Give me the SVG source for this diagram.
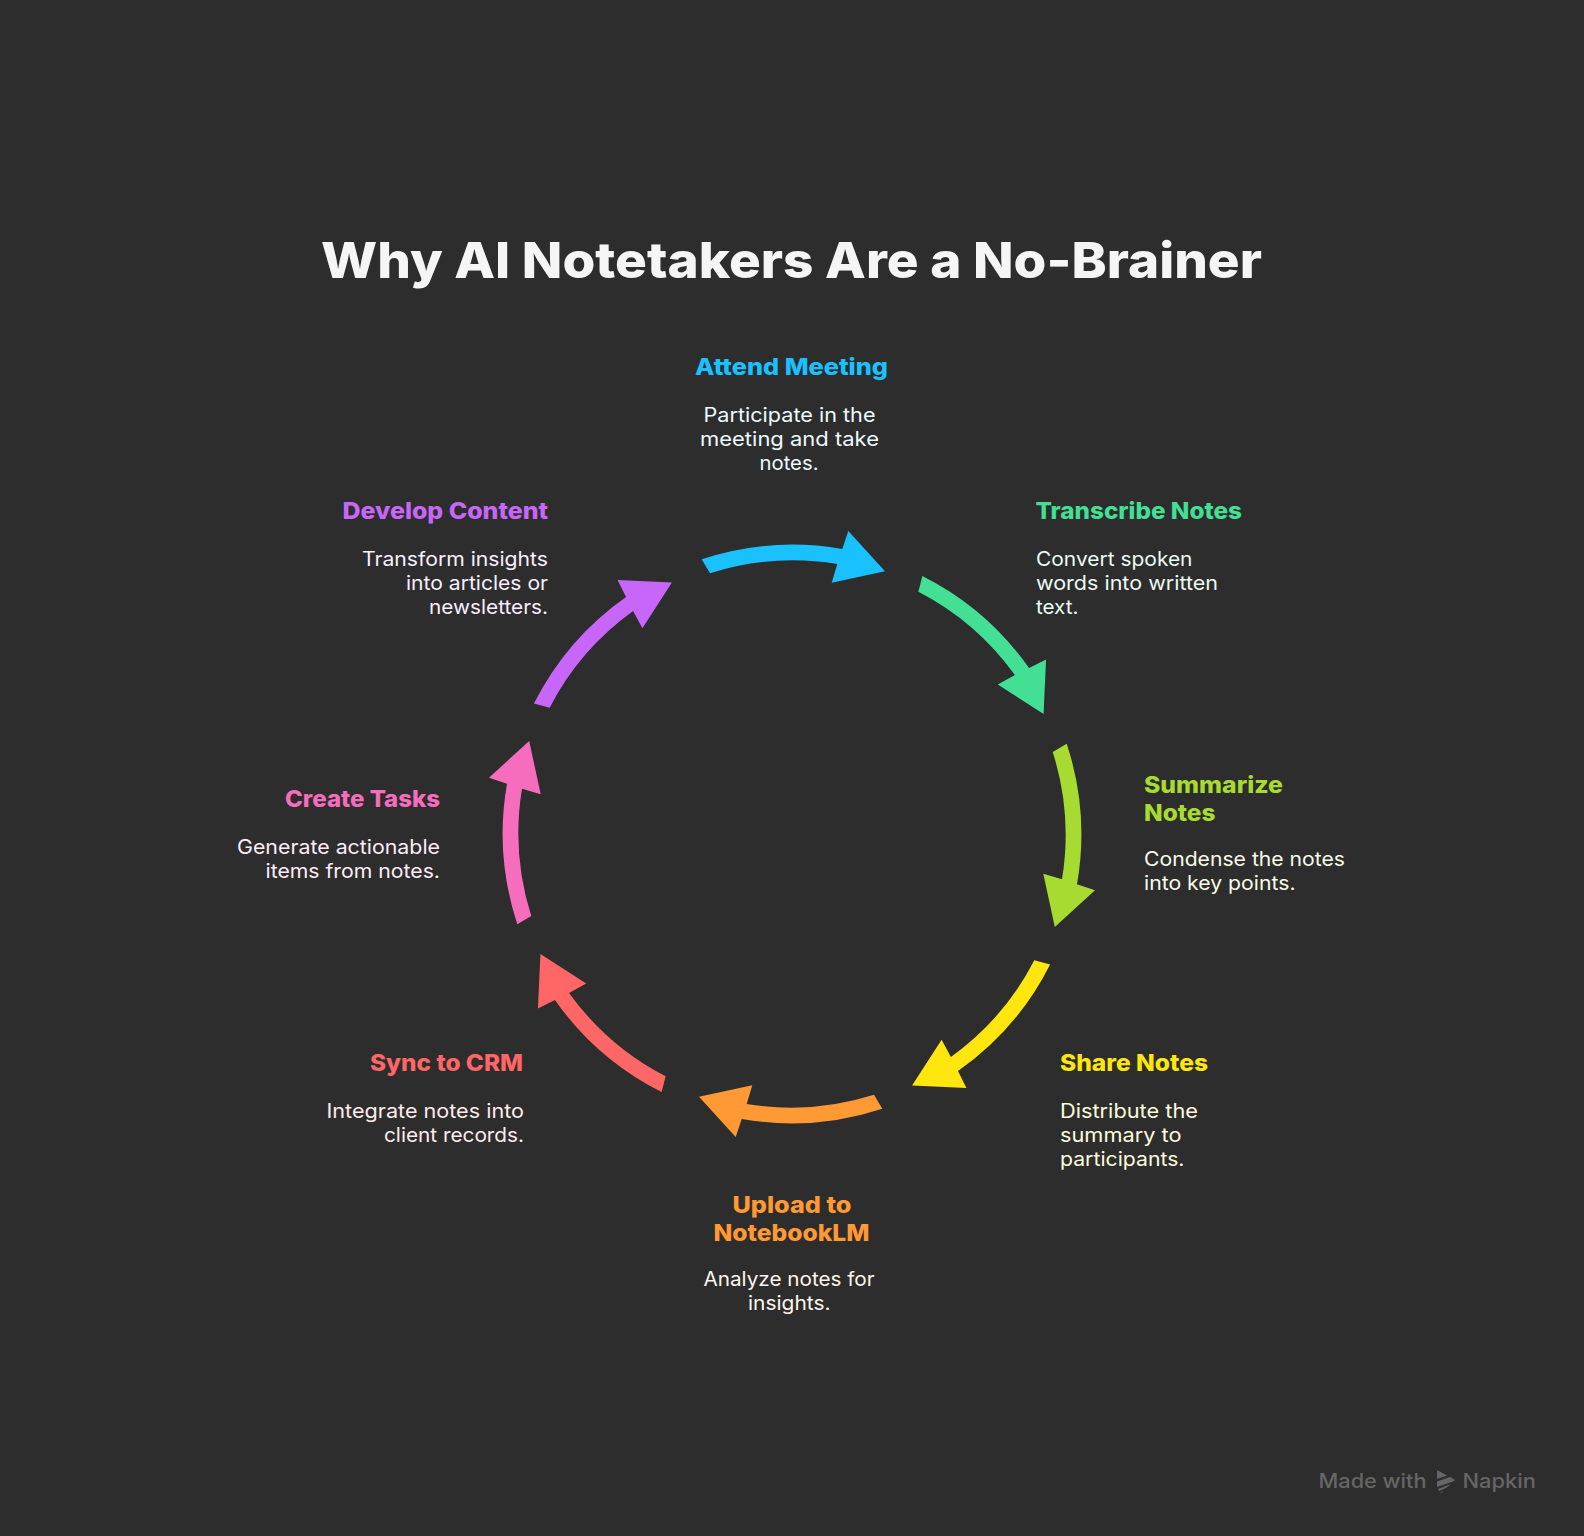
<svg xmlns="http://www.w3.org/2000/svg" width="1584" height="1536" viewBox="0 0 1584 1536">
<style>
text{font-family:"Inter","Liberation Sans",sans-serif}
.t{font-size:50px;font-weight:800;fill:#f5f5f5}
.h{font-size:23px;font-weight:800}
.d{font-size:19.5px;font-weight:400}
.w{font-size:20px;font-weight:500;fill:#666}
</style>
<defs>
<path id="arrow" d="M-90.300 -274.700A289.300 289.300 0 0 1 50.300 -285L56.300 -303L93 -262.800L39.700 -251.300L45.300 -270A273.500 273.500 0 0 0 -82 -260.700Z"/>
</defs>
<rect width="1584" height="1536" fill="#2d2d2d"/>
<text class="t" x="321" y="278.3" textLength="941" lengthAdjust="spacingAndGlyphs">Why AI Notetakers Are a No-Brainer</text>
<g id="connectors">
<use href="#arrow" fill="#1ac1ff" transform="translate(792 834)"/>
<use href="#arrow" fill="#42df94" transform="translate(792 834) rotate(45)"/>
<use href="#arrow" fill="#a7db32" transform="translate(792 834) rotate(90)"/>
<use href="#arrow" fill="#ffe60f" transform="translate(792 834) rotate(135)"/>
<use href="#arrow" fill="#ff9933" transform="translate(792 834) rotate(180)"/>
<use href="#arrow" fill="#ff6666" transform="translate(792 834) rotate(225)"/>
<use href="#arrow" fill="#f76dbe" transform="translate(792 834) rotate(270)"/>
<use href="#arrow" fill="#c966fa" transform="translate(792 834) rotate(315)"/>
</g>
<g id="node-attend" fill="#eefaff">
<text class="h" fill="#1ac1ff" x="695" y="375" textLength="193" lengthAdjust="spacingAndGlyphs">Attend Meeting</text>
<text class="d" x="703.5" y="422.3" textLength="172" lengthAdjust="spacingAndGlyphs">Participate in the</text>
<text class="d" x="700" y="446.3" textLength="179" lengthAdjust="spacingAndGlyphs">meeting and take</text>
<text class="d" x="759.5" y="470.3" textLength="59" lengthAdjust="spacingAndGlyphs">notes.</text>
</g>
<g id="node-transcribe" fill="#ecfbf4">
<text class="h" fill="#42df94" x="1035.5" y="518.7" textLength="206.5" lengthAdjust="spacingAndGlyphs">Transcribe Notes</text>
<text class="d" x="1036" y="566" textLength="156.5" lengthAdjust="spacingAndGlyphs">Convert spoken</text>
<text class="d" x="1036" y="590" textLength="182" lengthAdjust="spacingAndGlyphs">words into written</text>
<text class="d" x="1036" y="614" textLength="42.5" lengthAdjust="spacingAndGlyphs">text.</text>
</g>
<g id="node-summarize" fill="#f8fce8">
<text class="h" fill="#a7db32" x="1144" y="792.7" textLength="139" lengthAdjust="spacingAndGlyphs">Summarize</text>
<text class="h" fill="#a7db32" x="1144" y="820.7" textLength="71.5" lengthAdjust="spacingAndGlyphs">Notes</text>
<text class="d" x="1144" y="866" textLength="201" lengthAdjust="spacingAndGlyphs">Condense the notes</text>
<text class="d" x="1144" y="890" textLength="151.5" lengthAdjust="spacingAndGlyphs">into key points.</text>
</g>
<g id="node-share" fill="#fffcdd">
<text class="h" fill="#ffe60f" x="1060" y="1071" textLength="148" lengthAdjust="spacingAndGlyphs">Share Notes</text>
<text class="d" x="1060" y="1118.3" textLength="138" lengthAdjust="spacingAndGlyphs">Distribute the</text>
<text class="d" x="1060" y="1142.3" textLength="121.5" lengthAdjust="spacingAndGlyphs">summary to</text>
<text class="d" x="1060" y="1166.3" textLength="124.5" lengthAdjust="spacingAndGlyphs">participants.</text>
</g>
<g id="node-upload" fill="#fff5ec">
<text class="h" fill="#ff9933" x="732.5" y="1213" textLength="119" lengthAdjust="spacingAndGlyphs">Upload to</text>
<text class="h" fill="#ff9933" x="713.5" y="1241" textLength="156" lengthAdjust="spacingAndGlyphs">NotebookLM</text>
<text class="d" x="703.5" y="1285.7" textLength="171" lengthAdjust="spacingAndGlyphs">Analyze notes for</text>
<text class="d" x="748" y="1309.7" textLength="82.5" lengthAdjust="spacingAndGlyphs">insights.</text>
</g>
<g id="node-sync" fill="#ffecec">
<text class="h" fill="#ff6666" x="370" y="1070.7" textLength="153" lengthAdjust="spacingAndGlyphs">Sync to CRM</text>
<text class="d" x="326.5" y="1118.3" textLength="197.5" lengthAdjust="spacingAndGlyphs">Integrate notes into</text>
<text class="d" x="384" y="1142.3" textLength="140" lengthAdjust="spacingAndGlyphs">client records.</text>
</g>
<g id="node-tasks" fill="#feedf7">
<text class="h" fill="#f76dbe" x="285" y="806.7" textLength="155" lengthAdjust="spacingAndGlyphs">Create Tasks</text>
<text class="d" x="237" y="854" textLength="203" lengthAdjust="spacingAndGlyphs">Generate actionable</text>
<text class="d" x="265.5" y="878" textLength="174.5" lengthAdjust="spacingAndGlyphs">items from notes.</text>
</g>
<g id="node-develop" fill="#f9effe">
<text class="h" fill="#c966fa" x="342.5" y="518.7" textLength="205.5" lengthAdjust="spacingAndGlyphs">Develop Content</text>
<text class="d" x="362" y="566" textLength="186" lengthAdjust="spacingAndGlyphs">Transform insights</text>
<text class="d" x="406" y="590" textLength="142" lengthAdjust="spacingAndGlyphs">into articles or</text>
<text class="d" x="429" y="614" textLength="119" lengthAdjust="spacingAndGlyphs">newsletters.</text>
</g>
<g id="watermark" fill="#666">
<text class="w" x="1318.5" y="1488" textLength="108" lengthAdjust="spacingAndGlyphs">Made with</text>
<path d="M1437 1470L1447 1475.500L1437 1479ZM1437 1481.500L1450 1477L1455 1480L1453 1481.500L1437 1487ZM1438 1489L1451 1484L1446 1488L1439 1491ZM1440 1493L1444 1490.500L1441 1493.500Z"/>
<text class="w" x="1462.500" y="1488" textLength="73.500" lengthAdjust="spacingAndGlyphs">Napkin</text>
</g>
</svg>
